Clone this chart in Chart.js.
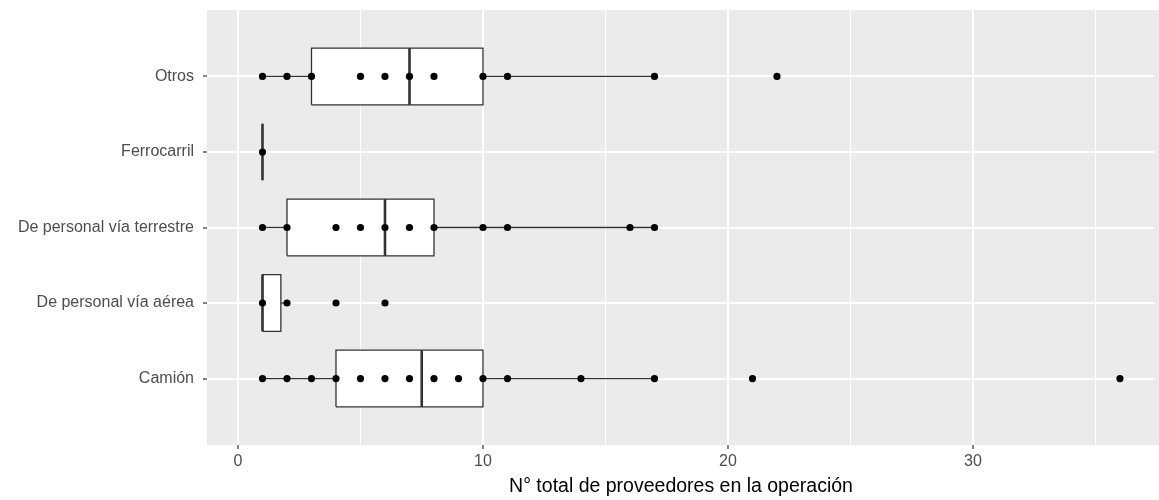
<!DOCTYPE html>
<html>
<head>
<meta charset="utf-8">
<script src="https://cdn.jsdelivr.net/npm/chart.js@4/dist/chart.umd.min.js"></script>
<style>
  html, body { margin: 0; padding: 0; background: #fff; overflow: hidden; }
  canvas { display: block; }
</style>
</head>
<body>
<canvas id="chart" width="1159" height="500"></canvas>
<script>
// categories from bottom (1) to top (5)
const categories = ['Camión', 'De personal vía aérea', 'De personal vía terrestre', 'Ferrocarril', 'Otros'];

// box stats per category
const q1 = [4, 1, 2, 1, 3];
const medians = [7.5, 1, 6, 1, 7];
const q3 = [10, 1.75, 8, 1, 10];
const whiskerLow = [1, 1, 1, 1, 1];
const whiskerHigh = [17, 2, 17, 1, 17];

// observed values (points) per category
const camionPts = [1, 2, 3, 4, 5, 6, 7, 8, 9, 10, 11, 14, 17, 21, 36];
const aereaPts = [1, 2, 4, 6];
const terrestrePts = [1, 2, 4, 5, 6, 7, 8, 10, 11, 16, 17];
const ferroPts = [1];
const otrosPts = [1, 2, 3, 5, 6, 7, 8, 10, 11, 17, 22];
const allPts = [camionPts, aereaPts, terrestrePts, ferroPts, otrosPts];

const xTicks = [0, 5, 10, 15, 20, 25, 30, 35];

const HALF = 0.375;
const LINE = '#333333';

// grey panel, run out to the right edge of the canvas
const panelBg = {
  id: 'panelBg',
  beforeDraw(chart) {
    const { ctx, chartArea: a } = chart;
    ctx.save();
    ctx.fillStyle = '#EBEBEB';
    ctx.fillRect(a.left, a.top, chart.width - a.left, a.bottom - a.top);
    ctx.restore();
  }
};

const datasets = [];

categories.forEach((c, i) => {
  const pos = i + 1;
  // points
  datasets.push({
    type: 'scatter',
    data: allPts[i].map(v => ({ x: v, y: pos })),
    pointRadius: 3.6,
    pointBackgroundColor: '#000',
    pointBorderWidth: 0,
    order: 0
  });
  // median
  datasets.push({
    type: 'line',
    data: [{ x: medians[i], y: pos - HALF }, { x: medians[i], y: pos + HALF }],
    borderColor: LINE,
    borderWidth: 2.6,
    pointRadius: 0,
    fill: false,
    order: 1
  });
  // whiskers
  if (whiskerLow[i] < q1[i]) {
    datasets.push({
      type: 'line',
      data: [{ x: whiskerLow[i], y: pos }, { x: q1[i], y: pos }],
      borderColor: LINE, borderWidth: 1.3, pointRadius: 0, fill: false, order: 2
    });
  }
  if (whiskerHigh[i] > q3[i]) {
    datasets.push({
      type: 'line',
      data: [{ x: q3[i], y: pos }, { x: whiskerHigh[i], y: pos }],
      borderColor: LINE, borderWidth: 1.3, pointRadius: 0, fill: false, order: 2
    });
  }
  // box
  if (q3[i] > q1[i]) {
    datasets.push({
      type: 'line',
      data: [
        { x: q1[i], y: pos - HALF }, { x: q3[i], y: pos - HALF },
        { x: q3[i], y: pos + HALF }, { x: q1[i], y: pos + HALF },
        { x: q1[i], y: pos - HALF }
      ],
      borderColor: LINE,
      borderWidth: 1.3,
      backgroundColor: '#FFFFFF',
      fill: 'shape',
      pointRadius: 0,
      tension: 0,
      order: 3
    });
  }
});

new Chart(document.getElementById('chart'), {
  type: 'scatter',
  data: { datasets },
  plugins: [panelBg],
  options: {
    responsive: false,
    animation: false,
    layout: { padding: { top: 10, right: 0, left: 0, bottom: 0 } },
    plugins: { legend: { display: false }, tooltip: { enabled: false } },
    scales: {
      x: {
        type: 'linear',
        min: -1.265,
        max: 37.43,
        afterBuildTicks: (s) => { s.ticks = xTicks.map(v => ({ value: v })); },
        afterFit: (s) => { s.height = 55; s.paddingLeft = 0; s.paddingRight = 0; },
        border: { display: false },
        grid: {
          color: '#FFFFFF',
          lineWidth: (ctx) => (ctx.tick && ctx.tick.value % 10 === 0 ? 2 : 1),
          tickColor: (ctx) => (ctx.tick && ctx.tick.value % 10 === 0 ? LINE : 'rgba(0,0,0,0)'),
          tickWidth: 1.2,
          tickLength: 4
        },
        ticks: {
          autoSkip: false,
          maxRotation: 0,
          padding: 3,
          color: '#4D4D4D',
          font: { family: 'Liberation Sans', size: 16 },
          callback: (v) => (v % 10 === 0 ? String(v) : '')
        },
        title: {
          display: true,
          text: 'N° total de proveedores en la operación',
          color: '#000000',
          font: { family: 'Liberation Sans', size: 19.5 },
          padding: { top: 0, bottom: 2 }
        }
      },
      y: {
        type: 'linear',
        min: 0.12,
        max: 5.88,
        afterBuildTicks: (s) => { s.ticks = categories.map((c, i) => ({ value: i + 1 })); },
        afterFit: (s) => { s.width = 207; s.paddingTop = 0; s.paddingBottom = 0; },
        border: { display: false },
        grid: {
          color: '#FFFFFF',
          lineWidth: 2,
          tickColor: LINE,
          tickWidth: 1.2,
          tickLength: 4
        },
        ticks: {
          autoSkip: false,
          padding: 9,
          color: '#4D4D4D',
          font: { family: 'Liberation Sans', size: 16 },
          callback: (v) => categories[Math.round(v) - 1] || ''
        }
      }
    }
  }
});
</script>
</body>
</html>
